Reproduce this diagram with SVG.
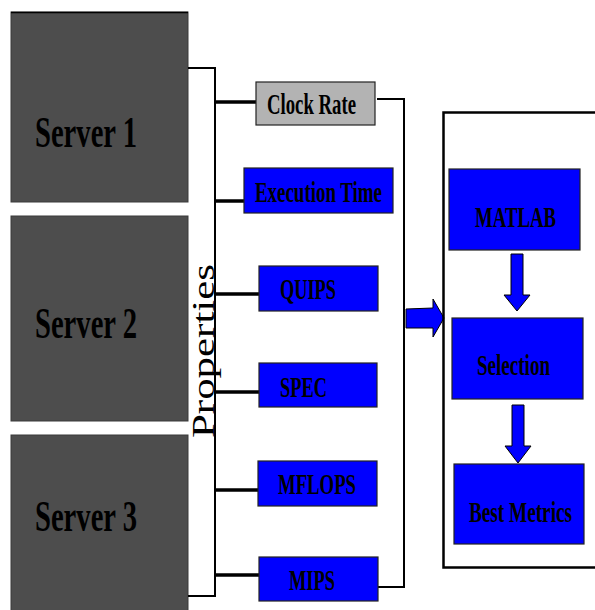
<svg xmlns="http://www.w3.org/2000/svg" width="595" height="610" viewBox="0 0 595 610">
<style>
.srv{fill:#4d4d4d;stroke:#3a3a3a;stroke-width:1}
.st{font-family:"Liberation Serif",serif;font-weight:bold;font-size:44px;fill:#000}
.box{fill:#0000ff;stroke:#222;stroke-width:1.2}
.gbox{fill:#b3b3b3;stroke:#222;stroke-width:1.2}
.bt{font-family:"Liberation Serif",serif;font-weight:bold;font-size:29px;fill:#000}
.ln{fill:none;stroke:#000;stroke-width:2}
.br{fill:none;stroke:#000;stroke-width:3.5}
.arr{fill:#0000ff;stroke:#000;stroke-width:1}
</style>
<rect width="595" height="610" fill="#fff"/>
<g id="server1">
<rect class="srv" x="11" y="12" width="177" height="190"/>
<line x1="11" y1="12.5" x2="188" y2="12.5" stroke="#000" stroke-width="1.5"/>
<text class="st" x="35" y="147" textLength="102" lengthAdjust="spacingAndGlyphs">Server 1</text>
</g>
<g id="server2">
<rect class="srv" x="11" y="216" width="177" height="205"/>
<text class="st" x="35" y="338" textLength="102" lengthAdjust="spacingAndGlyphs">Server 2</text>
</g>
<g id="server3">
<rect class="srv" x="11" y="435" width="177" height="180"/>
<text class="st" x="35" y="531" textLength="102" lengthAdjust="spacingAndGlyphs">Server 3</text>
</g>
<g id="properties">
<text x="214" y="438" transform="rotate(-90 214 438)" font-family="Liberation Serif,serif" font-size="32" textLength="174" lengthAdjust="spacingAndGlyphs" fill="#000">Properties</text>
</g>
<g id="connectors">
<path class="ln" d="M188,68 H215 V596 H188"/>
<line class="br" x1="215" y1="102" x2="256" y2="102"/>
<line class="br" x1="215" y1="201" x2="244" y2="201"/>
<line class="br" x1="215" y1="294" x2="259" y2="294"/>
<line class="br" x1="215" y1="392" x2="259" y2="392" stroke-width="3"/>
<line class="br" x1="215" y1="490" x2="258" y2="490"/>
<line class="br" x1="215" y1="575" x2="259" y2="575"/>
<path class="ln" d="M377,99 H404 V587 H378"/>
<path class="arr" d="M406,309 L433,308 L433,299 L444,318 L433,337 L433,328 L406,328 Z"/>
<path class="arr" d="M511,254 H523 V295 H530 L517,311 L504,295 H511 Z"/>
<path class="arr" d="M512,405 H524 V446 H531 L518,463 L505,446 H512 Z"/>
</g>
<g id="panel">
<path d="M596,112.5 H443.5 V567.5 H596" fill="none" stroke="#000" stroke-width="2.5"/>
</g>
<g id="clockrate">
<rect class="gbox" x="256" y="82" width="119" height="43"/>
<text class="bt" x="267" y="114" textLength="89" lengthAdjust="spacingAndGlyphs">Clock Rate</text>
</g>
<g id="exectime">
<rect class="box" x="244" y="168" width="149" height="45"/>
<text class="bt" x="255" y="202" textLength="127" lengthAdjust="spacingAndGlyphs">Execution Time</text>
</g>
<g id="quips">
<rect class="box" x="259" y="266" width="119" height="45"/>
<text class="bt" x="280" y="299" textLength="56" lengthAdjust="spacingAndGlyphs">QUIPS</text>
</g>
<g id="spec">
<rect class="box" x="259" y="363" width="118" height="44"/>
<text class="bt" x="280" y="397" textLength="47" lengthAdjust="spacingAndGlyphs">SPEC</text>
</g>
<g id="mflops">
<rect class="box" x="258" y="461" width="119" height="45"/>
<text class="bt" x="278" y="494" textLength="78" lengthAdjust="spacingAndGlyphs">MFLOPS</text>
</g>
<g id="mips">
<rect class="box" x="259" y="557" width="119" height="44"/>
<text class="bt" x="289" y="590" textLength="46" lengthAdjust="spacingAndGlyphs">MIPS</text>
</g>
<g id="matlab">
<rect class="box" x="449" y="169" width="131" height="81"/>
<text class="bt" x="475" y="227" textLength="81" lengthAdjust="spacingAndGlyphs">MATLAB</text>
</g>
<g id="selection">
<rect class="box" x="452" y="318" width="131" height="81"/>
<text class="bt" x="477" y="375" textLength="73" lengthAdjust="spacingAndGlyphs">Selection</text>
</g>
<g id="bestmetrics">
<rect class="box" x="454" y="464" width="130" height="80"/>
<text class="bt" x="469" y="522" textLength="103" lengthAdjust="spacingAndGlyphs">Best Metrics</text>
</g>
</svg>
